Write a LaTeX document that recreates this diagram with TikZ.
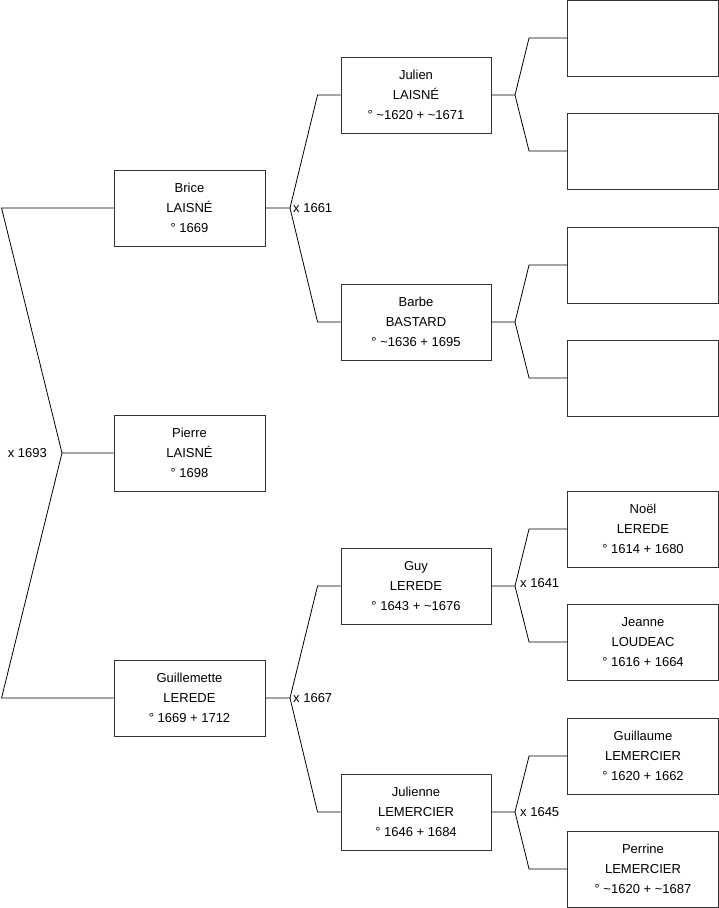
\documentclass[tikz,border=0pt]{standalone}
\usepackage{fontspec}
\setmainfont{Liberation Sans}
\tikzset{
  person/.style={draw=black!80, line width=0.9pt, minimum width=151pt, minimum height=76pt, inner sep=0pt, align=center, font=\fontsize{13}{20}\selectfont},
  link/.style={draw=black, line width=0.8pt},
  marr/.style={font=\fontsize{13}{16}\selectfont, inner sep=0pt}
}
\begin{document}
\begin{tikzpicture}[x=1pt,y=-1pt]
\useasboundingbox (0,0) rectangle (719,908);
% column 1
\node[person] (brice) at (189.5,208) {Brice\\LAISNÉ\\° 1669};
\node[person] (pierre) at (189.5,453) {Pierre\\LAISNÉ\\° 1698};
\node[person] (guil) at (189.5,698) {Guillemette\\LEREDE\\° 1669 + 1712};
% column 2
\node[person, minimum width=150pt] (julien) at (416,95) {Julien\\LAISNÉ\\° \textasciitilde1620 + \textasciitilde1671};
\node[person, minimum width=150pt] (barbe) at (416,322) {Barbe\\BASTARD\\° \textasciitilde1636 + 1695};
\node[person, minimum width=150pt] (guy) at (416,586) {Guy\\LEREDE\\° 1643 + \textasciitilde1676};
\node[person, minimum width=150pt] (julienne) at (416,812) {Julienne\\LEMERCIER\\° 1646 + 1684};
% column 3
\node[person] (e1) at (643,38) {};
\node[person] (e2) at (643,151) {};
\node[person] (e3) at (643,265) {};
\node[person] (e4) at (643,378) {};
\node[person] (noel) at (643,529) {Noël\\LEREDE\\° 1614 + 1680};
\node[person] (jeanne) at (643,642) {Jeanne\\LOUDEAC\\° 1616 + 1664};
\node[person] (guillaume) at (643,756) {Guillaume\\LEMERCIER\\° 1620 + 1662};
\node[person] (perrine) at (643,869) {Perrine\\LEMERCIER\\° \textasciitilde1620 + \textasciitilde1687};
% fork points
\coordinate (r) at (62,453);
\coordinate (fa) at (290,208);
\coordinate (fb) at (290,698);
\coordinate (fc) at (515,95);
\coordinate (fd) at (515,322);
\coordinate (fe) at (515,586);
\coordinate (ff) at (515,812);
% root
\draw[link] (brice.west) -- ([xshift=-112]brice.west) -- (r) -- (pierre.west);
\draw[link] (r) -- ([xshift=-112]guil.west) -- (guil.west);
\node[marr, anchor=east] at ([xshift=-15]r) {x 1693};
% generation 2
\draw[link] (brice.east) -- (fa) -- ([xshift=-23]julien.west) -- (julien.west);
\draw[link] (fa) -- ([xshift=-23]barbe.west) -- (barbe.west);
\node[marr, anchor=west] at ([xshift=3]fa) {x 1661};
\draw[link] (guil.east) -- (fb) -- ([xshift=-23]guy.west) -- (guy.west);
\draw[link] (fb) -- ([xshift=-23]julienne.west) -- (julienne.west);
\node[marr, anchor=west] at ([xshift=3]fb) {x 1667};
% generation 3
\draw[link] (julien.east) -- (fc) -- ([xshift=-38]e1.west) -- (e1.west);
\draw[link] (fc) -- ([xshift=-38]e2.west) -- (e2.west);
\draw[link] (barbe.east) -- (fd) -- ([xshift=-38]e3.west) -- (e3.west);
\draw[link] (fd) -- ([xshift=-38]e4.west) -- (e4.west);
\draw[link] (guy.east) -- (fe) -- ([xshift=-38]noel.west) -- (noel.west);
\draw[link] (fe) -- ([xshift=-38]jeanne.west) -- (jeanne.west);
\node[marr, anchor=west] at ([xshift=5,yshift=3]fe) {x 1641};
\draw[link] (julienne.east) -- (ff) -- ([xshift=-38]guillaume.west) -- (guillaume.west);
\draw[link] (ff) -- ([xshift=-38]perrine.west) -- (perrine.west);
\node[marr, anchor=west] at ([xshift=5]ff) {x 1645};
\end{tikzpicture}
\end{document}
